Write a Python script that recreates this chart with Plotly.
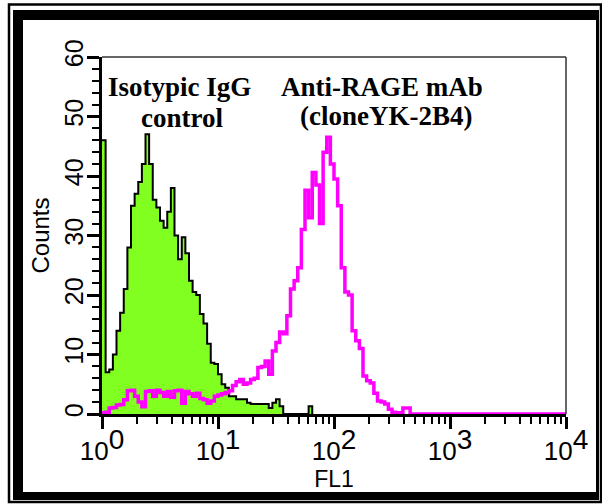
import numpy as np
import plotly.graph_objects as go

# FL1 channels: log-spaced, 32 channels per decade starting at 10^0
CHANNELS_PER_DECADE = 32

# counts per FL1 channel
isotype_counts = [46, 7, 7.5, 10, 14, 17, 21, 28, 35, 37, 39, 42, 47, 42, 36, 34.7,
                  32.5, 31.3, 34, 38, 30, 26, 29.7, 27, 22.4, 20.5, 20, 16.8, 15.2,
                  11.8, 8.6, 8.4, 6.7, 5, 4.4, 3, 3, 2.5, 2.5, 2.5, 1.9, 1.7, 1.7,
                  1.7, 1.7, 1.7, 1, 1.9, 2.5, 1.3, 0, 0, 0, 0, 0, 0, 0, 1.3]
rage_counts = [0.2, 0.3, 1.0, 1.1, 1.5, 1.6, 2.4, 3.9, 4.0, 3.0,
               2.0, 1.2, 3.8, 3.9, 3.0, 4.0, 3.6, 3.0, 3.8, 2.8,
               3.9, 4.0, 1.8, 3.8, 3.4, 3.0, 3.5, 2.6, 2.4, 1.8,
               2.2, 3.0, 3.2, 3.4, 3.6, 3.9, 4.8, 5.4, 5.8, 5.0,
               5.2, 5.8, 6.0, 7.8, 8.0, 8.9, 6.7, 10.6, 12.0, 13.8,
               13.5, 16.5, 21.0, 22.4, 24.6, 31, 37.6, 33, 40.6, 38.5,
               32, 44, 46.5, 42, 39.5, 35, 24.6, 20.5, 20, 14,
               12.3, 11, 6.4, 5.6, 5.2, 3.5, 2.2, 2.0, 1.7, 0.8,
               0.3, 0.2, 0.2, 1.0, 1.0]

x_tickvals = [1, 10, 100, 1000, 10000]
x_ticktext = ["10<sup><span style='font-size:28px'>%d</span></sup>" % i for i in range(5)]
y_tickvals = [0, 10, 20, 30, 40, 50, 60]
minor_x = [m * 10 ** d for d in range(4) for m in range(2, 10)]

W, H = 602, 504
L, R, T, B = 102, 36, 57, 90


def step_xy(counts, to_end=False):
    n = len(counts)
    edges = 10 ** (np.arange(n + 1) / CHANNELS_PER_DECADE)
    x = list(edges)
    y = list(counts) + [0]
    if to_end:
        x.append(1e4)
        y.append(0)
    return x, y


def px_x(px):
    return (px - L) / (W - L - R)


def px_y(py):
    return (H - B - py) / (H - T - B)


fig = go.Figure()

xi, yi = step_xy(isotype_counts)
fig.add_trace(go.Scatter(
    x=xi, y=yi, mode="lines", line_shape="hv",
    line=dict(color="black", width=2),
    fill="tozeroy", fillcolor="#80FF20",
    name="Isotypic IgG control",
))

xr, yr = step_xy(rage_counts, to_end=True)
fig.add_trace(go.Scatter(
    x=xr, y=yr, mode="lines", line_shape="hv",
    line=dict(color="#FF00FF", width=3.5),
    name="Anti-RAGE mAb",
))

serif = dict(family="Liberation Serif", size=27, color="black")
labels = [
    ("<b>Isotypic IgG</b>", 179, 87),
    ("<b>control</b>", 182, 118),
    ("<b>Anti-RAGE mAb</b>", 382, 87),
    ("<b>(cloneYK-2B4)</b>", 386, 116),
]
for text, px, py in labels:
    fig.add_annotation(x=px_x(px), y=px_y(py), xref="paper", yref="paper",
                       text=text, showarrow=False, font=serif,
                       xanchor="center", yanchor="middle")

# picture frame around the whole figure
blk = dict(type="rect", xref="paper", yref="paper", fillcolor="black", line_width=0)
fig.add_shape(type="rect", xref="paper", yref="paper",
              x0=px_x(9), x1=px_x(601), y0=px_y(502), y1=px_y(4.5),
              line=dict(color="black", width=2.5))
fig.add_shape(**blk, x0=px_x(13), x1=px_x(23), y0=px_y(500), y1=px_y(10))
fig.add_shape(**blk, x0=px_x(13), x1=px_x(599), y0=px_y(20), y1=px_y(10))
fig.add_shape(**blk, x0=px_x(13), x1=px_x(599), y0=px_y(500), y1=px_y(492))
fig.add_shape(**blk, x0=px_x(596), x1=px_x(599), y0=px_y(500), y1=px_y(10))
# thin top and right edges of the plot box
fig.add_shape(type="line", xref="paper", yref="paper", x0=0, x1=1, y0=1, y1=1,
              line=dict(color="#333333", width=1.5))
fig.add_shape(type="line", xref="paper", yref="paper", x0=1, x1=1, y0=0, y1=1,
              line=dict(color="#333333", width=1.5))

sans = "Liberation Sans"
fig.update_layout(
    width=W, height=H,
    margin=dict(l=L, r=R, t=T, b=B),
    paper_bgcolor="white", plot_bgcolor="white",
    showlegend=False,
    xaxis=dict(
        type="log", range=[0, 4],
        tickmode="array", tickvals=x_tickvals, ticktext=x_ticktext,
        ticks="outside", ticklen=12, tickwidth=2.5, tickcolor="black",
        tickfont=dict(family=sans, size=26, color="black"),
        showline=True, linewidth=3, linecolor="black",
        showgrid=False, zeroline=False,
        minor=dict(tickmode="array", tickvals=minor_x, ticks="outside",
                   ticklen=7, tickwidth=2, tickcolor="black", showgrid=False),
        title=dict(text="FL1", font=dict(family=sans, size=23, color="black"), standoff=0),
    ),
    yaxis=dict(
        range=[0, 60],
        tickmode="array", tickvals=y_tickvals, tickangle=-90,
        ticks="outside", ticklen=12, tickwidth=2.5, tickcolor="black",
        tickfont=dict(family=sans, size=25, color="black"),
        ticklabelstandoff=-6,
        showline=True, linewidth=3, linecolor="black",
        showgrid=False, zeroline=False,
        minor=dict(dtick=2, ticks="outside", ticklen=7, tickwidth=2,
                   tickcolor="black", showgrid=False),
        title=dict(text="Counts", font=dict(family=sans, size=24, color="black"), standoff=4),
    ),
)

# the page body has a default 8px margin; drop it so the figure sits at the window corner
fig.write_html("out.html", config={"displayModeBar": False},
               post_script="document.body.style.margin='0px';")
